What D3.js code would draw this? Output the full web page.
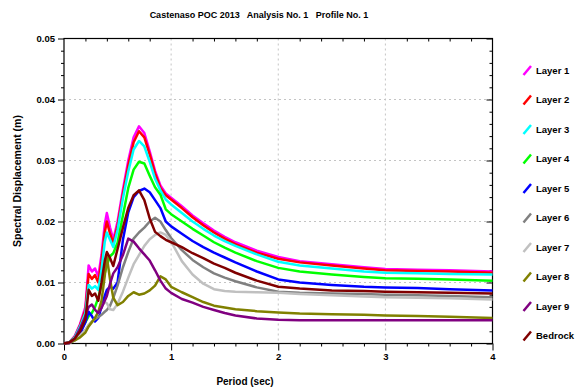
<!DOCTYPE html>
<html>
<head>
<meta charset="utf-8">
<script src="https://cdn.jsdelivr.net/npm/d3@7"></script>
<style>
  body { margin: 0; background: #fff; }
  text { font-family: "Liberation Sans", Arial, sans-serif; font-weight: bold; fill: #000; }
</style>
</head>
<body>
<svg id="chart" width="575" height="392"></svg>
<script>
// chart values
var periods = [0, 0.05, 0.1, 0.15, 0.2, 0.23, 0.26, 0.29, 0.32, 0.35, 0.38, 0.40, 0.43, 0.46, 0.5,
  0.55, 0.6, 0.65, 0.7, 0.75, 0.8, 0.85, 0.9, 0.95, 1.0, 1.1, 1.2, 1.3, 1.4, 1.5,
  1.6, 1.8, 2.0, 2.2, 2.5, 2.8, 3.0, 3.3, 3.6, 4.0];

var layer1 = [0, 0.0002, 0.0012, 0.0032, 0.0060, 0.0128, 0.0118, 0.0123, 0.0110, 0.0145, 0.0195, 0.0214, 0.0190, 0.0170, 0.0200,
  0.0252, 0.0300, 0.0338, 0.0356, 0.0345, 0.0315, 0.0283, 0.0259, 0.0246, 0.0239, 0.0225, 0.0210, 0.0197, 0.0185, 0.0175,
  0.0166, 0.0152, 0.0142, 0.0135, 0.0130, 0.0125, 0.0122, 0.0121, 0.0120, 0.0118];
var layer2 = [0, 0.0002, 0.0011, 0.0030, 0.0055, 0.0114, 0.0106, 0.0112, 0.0100, 0.0135, 0.0182, 0.0200, 0.0180, 0.0164, 0.0193,
  0.0245, 0.0292, 0.0330, 0.0348, 0.0338, 0.0310, 0.0279, 0.0255, 0.0243, 0.0236, 0.0222, 0.0207, 0.0194, 0.0182, 0.0172,
  0.0163, 0.0149, 0.0139, 0.0133, 0.0128, 0.0123, 0.0120, 0.0119, 0.0118, 0.0116];
var layer3 = [0, 0.0002, 0.0010, 0.0028, 0.0050, 0.0096, 0.0090, 0.0094, 0.0088, 0.0120, 0.0166, 0.0182, 0.0170, 0.0158, 0.0186,
  0.0238, 0.0282, 0.0318, 0.0332, 0.0323, 0.0298, 0.0270, 0.0251, 0.0236, 0.0228, 0.0214, 0.0200, 0.0188, 0.0177, 0.0168,
  0.0160, 0.0146, 0.0134, 0.0128, 0.0123, 0.0118, 0.0116, 0.0115, 0.0114, 0.0113];
var layer4 = [0, 0.0001, 0.0007, 0.0020, 0.0035, 0.0045, 0.0050, 0.0060, 0.0075, 0.0095, 0.0115, 0.0128, 0.0143, 0.0148, 0.0165,
  0.0210, 0.0255, 0.0285, 0.0298, 0.0295, 0.0275, 0.0256, 0.0244, 0.0220, 0.0212, 0.0200, 0.0188, 0.0177, 0.0166, 0.0157,
  0.0149, 0.0135, 0.0124, 0.0118, 0.0113, 0.0109, 0.0107, 0.0106, 0.0105, 0.0103];
var layer5 = [0, 0.0001, 0.0006, 0.0016, 0.0035, 0.0052, 0.0045, 0.0036, 0.0042, 0.0060, 0.0078, 0.0088, 0.0093, 0.0090, 0.0100,
  0.0170, 0.0215, 0.0240, 0.0250, 0.0254, 0.0248, 0.0235, 0.0222, 0.0200, 0.0192, 0.0180, 0.0168, 0.0158, 0.0149, 0.0141,
  0.0133, 0.0118, 0.0105, 0.0100, 0.0096, 0.0093, 0.0092, 0.0091, 0.0089, 0.0087];
var layer6 = [0, 0.0001, 0.0005, 0.0013, 0.0022, 0.0030, 0.0036, 0.0040, 0.0043, 0.0047, 0.0052, 0.0055, 0.0062, 0.0075, 0.0095,
  0.0125, 0.0150, 0.0172, 0.0182, 0.0190, 0.0200, 0.0206, 0.0200, 0.0186, 0.0173, 0.0153, 0.0137, 0.0125, 0.0115, 0.0108,
  0.0102, 0.0092, 0.0085, 0.0083, 0.0082, 0.0081, 0.0080, 0.0079, 0.0078, 0.0076];
var layer7 = [0, 0.0001, 0.0005, 0.0013, 0.0022, 0.0030, 0.0035, 0.0042, 0.0050, 0.0060, 0.0068, 0.0066, 0.0056, 0.0055, 0.0065,
  0.0085, 0.0108, 0.0130, 0.0145, 0.0160, 0.0171, 0.0178, 0.0182, 0.0178, 0.0167, 0.0135, 0.0113, 0.0098, 0.0089, 0.0086,
  0.0085, 0.0084, 0.0083, 0.0081, 0.0079, 0.0077, 0.0076, 0.0075, 0.0074, 0.0072];
var layer8 = [0, 0.0001, 0.0005, 0.0010, 0.0018, 0.0028, 0.0035, 0.0042, 0.0052, 0.0070, 0.0110, 0.0142, 0.0105, 0.0075, 0.0063,
  0.0068, 0.0078, 0.0084, 0.0080, 0.0082, 0.0087, 0.0095, 0.0110, 0.0105, 0.0093, 0.0084, 0.0076, 0.0068, 0.0062, 0.0059,
  0.0056, 0.0053, 0.0051, 0.0049, 0.0048, 0.0047, 0.0046, 0.0045, 0.0044, 0.0042];
var layer9 = [0, 0.0001, 0.0008, 0.0025, 0.0045, 0.0060, 0.0064, 0.0055, 0.0050, 0.0058, 0.0070, 0.0078, 0.0098, 0.0115, 0.0125,
  0.0145, 0.0172, 0.0167, 0.0156, 0.0146, 0.0136, 0.0120, 0.0103, 0.0090, 0.0083, 0.0073, 0.0067, 0.0060, 0.0055, 0.0050,
  0.0046, 0.0041, 0.0039, 0.0038, 0.0038, 0.0038, 0.0038, 0.0038, 0.0038, 0.0038];
var bedrock = [0, 0.0002, 0.0008, 0.0020, 0.0040, 0.0088, 0.0078, 0.0082, 0.0070, 0.0100, 0.0135, 0.0150, 0.0140, 0.0127, 0.0155,
  0.0190, 0.0222, 0.0243, 0.0251, 0.0235, 0.0205, 0.0183, 0.0176, 0.0170, 0.0166, 0.0158, 0.0148, 0.0140, 0.0131, 0.0124,
  0.0116, 0.0103, 0.0093, 0.0090, 0.0087, 0.0086, 0.0085, 0.0084, 0.0083, 0.0082];

var layerNames = ["Layer 1", "Layer 2", "Layer 3", "Layer 4", "Layer 5", "Layer 6", "Layer 7", "Layer 8", "Layer 9", "Bedrock"];
var layerValues = [layer1, layer2, layer3, layer4, layer5, layer6, layer7, layer8, layer9, bedrock];
var layerColors = ["#ff00ff", "#ff0000", "#00ffff", "#00ff00", "#0000ff", "#808080", "#c0c0c0", "#808000", "#800080", "#800000"];

var xTicks = [0, 1, 2, 3, 4];
var yTicks = [0, 0.01, 0.02, 0.03, 0.04, 0.05];
var title = "Castenaso POC 2013   Analysis No. 1   Profile No. 1";

var svg = d3.select("#chart");
var plotLeft = 64, plotRight = 492.5, plotTop = 38.5, plotBottom = 343.5;

var x = d3.scaleLinear().domain([0, 4]).range([plotLeft, plotRight]);
var y = d3.scaleLinear().domain([0, 0.05]).range([plotBottom, plotTop]);

var xMinor = d3.range(0, 4.001, 0.2).filter(function(d){ return Math.abs(d - Math.round(d)) > 0.01; });
var yMinor = d3.range(0, 0.0501, 0.002).filter(function(d){ return Math.abs(d*100 - Math.round(d*100)) > 0.01; });

svg.append("rect").attr("width", 575).attr("height", 392).attr("fill", "#fff");

// grid
svg.append("g").selectAll("line")
    .data(xTicks.slice(1, -1))
    .enter().append("line")
    .attr("x1", function(d){ return x(d); }).attr("x2", function(d){ return x(d); })
    .attr("y1", plotTop).attr("y2", plotBottom)
    .attr("stroke", "#c4c4c4").attr("stroke-dasharray", "2,3");
svg.append("g").selectAll("line")
    .data(yTicks.slice(1, -1))
    .enter().append("line")
    .attr("y1", function(d){ return y(d); }).attr("y2", function(d){ return y(d); })
    .attr("x1", plotLeft).attr("x2", plotRight)
    .attr("stroke", "#c4c4c4").attr("stroke-dasharray", "2,3");

// axes
function styleAxis(g){
    g.select(".domain").remove();
    g.selectAll("line").attr("stroke", "#000");
    g.selectAll("text").style("font-size", "9.5px").attr("fill", "#000");
}
svg.append("g").attr("transform", "translate(" + plotLeft + ",0)")
    .call(d3.axisLeft(y).tickValues(yTicks).tickSize(6).tickPadding(3).tickFormat(d3.format(".2f")))
    .call(styleAxis);
svg.append("g").attr("transform", "translate(" + plotLeft + ",0)")
    .call(d3.axisLeft(y).tickValues(yMinor).tickSize(3).tickFormat(""))
    .call(styleAxis);
svg.append("g").attr("transform", "translate(" + plotRight + ",0)")
    .call(d3.axisRight(y).tickValues(yTicks).tickSize(-6).tickFormat(""))
    .call(styleAxis);
svg.append("g").attr("transform", "translate(" + plotRight + ",0)")
    .call(d3.axisRight(y).tickValues(yMinor).tickSize(-3).tickFormat(""))
    .call(styleAxis);
svg.append("g").attr("transform", "translate(0," + plotBottom + ")")
    .call(d3.axisBottom(x).tickValues(xTicks).tickSize(7).tickPadding(3).tickFormat(d3.format("d")))
    .call(styleAxis);
svg.append("g").attr("transform", "translate(0," + plotBottom + ")")
    .call(d3.axisBottom(x).tickValues(xMinor).tickSize(3).tickFormat(""))
    .call(styleAxis);
svg.append("g").attr("transform", "translate(0," + plotTop + ")")
    .call(d3.axisTop(x).tickValues(xMinor).tickSize(-3).tickFormat(""))
    .call(styleAxis);

svg.append("rect")
    .attr("x", plotLeft).attr("y", plotTop)
    .attr("width", plotRight - plotLeft).attr("height", plotBottom - plotTop)
    .attr("fill", "none").attr("stroke", "#000").attr("stroke-width", 1.2);

// curves
var line = d3.line()
    .x(function(d, i){ return x(periods[i]); })
    .y(function(d){ return y(d); });

svg.append("g").selectAll("path")
    .data(layerValues)
    .enter().append("path")
    .attr("d", line)
    .attr("fill", "none")
    .attr("stroke", function(d, i){ return layerColors[i]; })
    .attr("stroke-width", 2.5)
    .attr("stroke-linejoin", "round");

// legend
var legend = svg.append("g").selectAll("g")
    .data(layerNames)
    .enter().append("g")
    .attr("transform", function(d, i){ return "translate(523," + (70.5 + i * 29.5) + ")"; });
legend.append("line")
    .attr("x1", 0.5).attr("y1", 4.5).attr("x2", 8).attr("y2", -4.5)
    .attr("stroke", function(d, i){ return layerColors[i]; })
    .attr("stroke-width", 2.5);
legend.append("text")
    .attr("x", 13).attr("dy", "0.35em")
    .style("font-size", "9.5px")
    .text(function(d){ return d; });

// titles
svg.append("text")
    .attr("x", 259).attr("y", 17.5)
    .attr("text-anchor", "middle")
    .style("font-size", "9px").style("white-space", "pre")
    .text(title);
svg.append("text")
    .attr("x", 245).attr("y", 385)
    .attr("text-anchor", "middle")
    .style("font-size", "10px")
    .text("Period (sec)");
svg.append("text")
    .attr("transform", "translate(20.5,181) rotate(-90)")
    .attr("text-anchor", "middle")
    .style("font-size", "10.5px")
    .text("Spectral Displacement (m)");
</script>
</body>
</html>
